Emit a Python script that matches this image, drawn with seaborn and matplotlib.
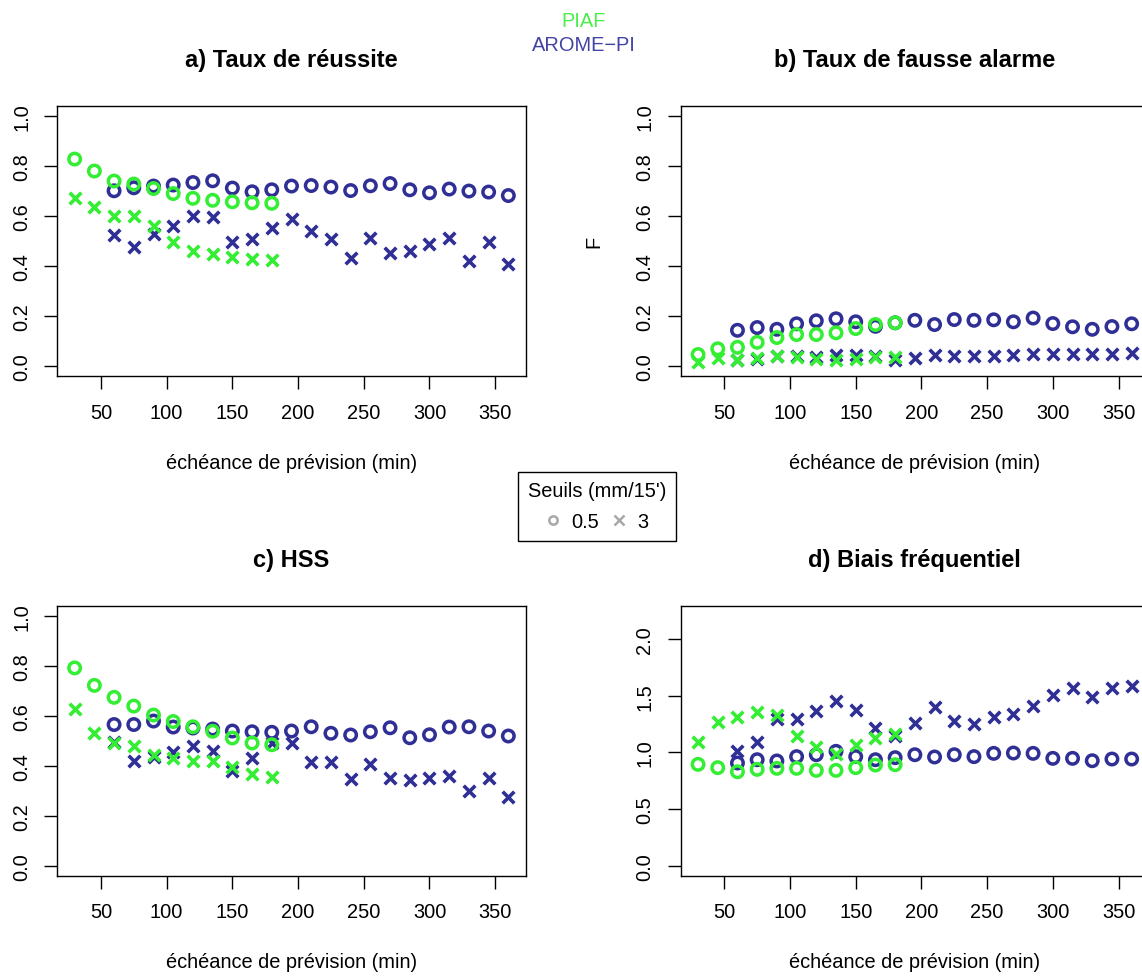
import numpy as np
import pandas as pd
import matplotlib
matplotlib.use('Agg')
import matplotlib.pyplot as plt
from matplotlib.lines import Line2D
import seaborn as sns

# Lead times (min)
piaf_lead = [30, 45, 60, 75, 90, 105, 120, 135, 150, 165, 180]
arome_lead = [60, 75, 90, 105, 120, 135, 150, 165, 180, 195, 210,
              225, 240, 255, 270, 285, 300, 315, 330, 345, 360]

# a) Taux de reussite
pod_piaf_05 = [0.829, 0.781, 0.741, 0.729, 0.711, 0.691, 0.672, 0.664, 0.658, 0.654, 0.652]
pod_piaf_3 = [0.675, 0.639, 0.603, 0.600, 0.561, 0.497, 0.461, 0.449, 0.439, 0.429, 0.426]
pod_arome_05 = [0.702, 0.714, 0.721, 0.725, 0.735, 0.742, 0.713, 0.698, 0.706, 0.721, 0.723,
                0.717, 0.703, 0.722, 0.731, 0.706, 0.694, 0.709, 0.701, 0.697, 0.683]
pod_arome_3 = [0.524, 0.477, 0.531, 0.560, 0.602, 0.599, 0.496, 0.511, 0.555, 0.588, 0.540,
               0.511, 0.432, 0.512, 0.453, 0.461, 0.491, 0.513, 0.420, 0.496, 0.409]

# b) Taux de fausse alarme
far_piaf_05 = [0.047, 0.070, 0.076, 0.096, 0.115, 0.127, 0.127, 0.134, 0.151, 0.167, 0.174]
far_piaf_3 = [0.017, 0.033, 0.027, 0.033, 0.040, 0.036, 0.029, 0.027, 0.031, 0.037, 0.036]
far_arome_05 = [0.144, 0.155, 0.148, 0.170, 0.182, 0.190, 0.178, 0.160, 0.174, 0.184, 0.167,
                0.187, 0.184, 0.186, 0.178, 0.193, 0.171, 0.158, 0.148, 0.159, 0.170]
far_arome_3 = [0.024, 0.031, 0.040, 0.040, 0.036, 0.047, 0.047, 0.040, 0.027, 0.033, 0.044,
               0.040, 0.040, 0.040, 0.045, 0.049, 0.049, 0.051, 0.051, 0.051, 0.053]

# c) HSS
hss_piaf_05 = [0.793, 0.723, 0.675, 0.640, 0.604, 0.578, 0.557, 0.539, 0.512, 0.492, 0.485]
hss_piaf_3 = [0.628, 0.533, 0.492, 0.479, 0.445, 0.430, 0.420, 0.421, 0.394, 0.369, 0.357]
hss_arome_05 = [0.566, 0.566, 0.580, 0.556, 0.552, 0.548, 0.540, 0.537, 0.535, 0.540, 0.557,
                0.531, 0.524, 0.537, 0.553, 0.513, 0.525, 0.556, 0.557, 0.540, 0.520]
hss_arome_3 = [0.497, 0.421, 0.434, 0.455, 0.481, 0.459, 0.381, 0.430, 0.492, 0.492, 0.416,
               0.416, 0.349, 0.409, 0.352, 0.342, 0.353, 0.358, 0.299, 0.350, 0.275]

# d) Biais frequentiel
bias_piaf_05 = [0.894, 0.865, 0.829, 0.850, 0.859, 0.859, 0.841, 0.841, 0.865, 0.888, 0.891]
bias_piaf_3 = [1.088, 1.271, 1.315, 1.356, 1.332, 1.147, 1.047, 0.985, 1.062, 1.129, 1.162]
bias_arome_05 = [0.906, 0.935, 0.924, 0.962, 0.979, 1.009, 0.962, 0.935, 0.953, 0.979, 0.959,
                 0.979, 0.962, 0.991, 0.994, 0.991, 0.947, 0.947, 0.926, 0.941, 0.941]
bias_arome_3 = [1.015, 1.094, 1.294, 1.294, 1.362, 1.450, 1.374, 1.212, 1.147, 1.256, 1.400,
                1.276, 1.247, 1.315, 1.341, 1.412, 1.506, 1.571, 1.485, 1.565, 1.588]

titles = ['a) Taux de réussite', 'b) Taux de fausse alarme', 'c) HSS', 'd) Biais fréquentiel']
xlabel = 'échéance de prévision (min)'

col_piaf = '#33EE33'
col_arome = '#2F2F96'
col_piaf_txt = '#4CEE4C'
col_arome_txt = '#4343A6'

sns.set_style('white')
plt.rcParams['font.family'] = ['Liberation Sans', 'DejaVu Sans']
plt.rcParams['text.color'] = 'black'
plt.rcParams['axes.labelcolor'] = 'black'
plt.rcParams['xtick.color'] = 'black'
plt.rcParams['ytick.color'] = 'black'


def make_df(p05, p3, a05, a3):
    rows = []
    for lead, v in zip(arome_lead, a05):
        rows.append(('AROME-PI', '0.5', lead, v))
    for lead, v in zip(arome_lead, a3):
        rows.append(('AROME-PI', '3', lead, v))
    for lead, v in zip(piaf_lead, p05):
        rows.append(('PIAF', '0.5', lead, v))
    for lead, v in zip(piaf_lead, p3):
        rows.append(('PIAF', '3', lead, v))
    return pd.DataFrame(rows, columns=['model', 'seuil', 'lead', 'value'])


panels = [
    make_df(pod_piaf_05, pod_piaf_3, pod_arome_05, pod_arome_3),
    make_df(far_piaf_05, far_piaf_3, far_arome_05, far_arome_3),
    make_df(hss_piaf_05, hss_piaf_3, hss_arome_05, hss_arome_3),
    make_df(bias_piaf_05, bias_piaf_3, bias_arome_05, bias_arome_3),
]

W, H = 1142, 978
fig = plt.figure(figsize=(W / 100, H / 100), dpi=100)

# box positions in pixels: left, top, right, bottom
boxes = [(57.3, 107.3, 525.7, 377.3), (680.7, 107.3, 1149, 377.3),
         (57.3, 607.3, 525.7, 876.7), (680.7, 607.3, 1149, 876.7)]

for i, (df, box) in enumerate(zip(panels, boxes)):
    l, t, r, b = box
    ax = fig.add_axes([l / W, 1 - b / H, (r - l) / W, (b - t) / H])
    for model, col in [('AROME-PI', col_arome), ('PIAF', col_piaf)]:
        sub = df[df.model == model]
        s05 = sub[sub.seuil == '0.5']
        s3 = sub[sub.seuil == '3']
        sns.scatterplot(data=s05, x='lead', y='value', ax=ax, marker='o', s=68,
                        facecolor='none', edgecolor=col, linewidth=2.5, zorder=3)
        sns.scatterplot(data=s3, x='lead', y='value', ax=ax, marker='x', s=70,
                        color=col, linewidth=2.6, zorder=3)

    ax.set_xlim(16.8, 373.2)
    ax.set_xticks([50, 100, 150, 200, 250, 300, 350])
    if i == 3:
        ax.set_ylim(-0.088, 2.288)
        ax.set_yticks([0.0, 0.5, 1.0, 1.5, 2.0])
    else:
        ax.set_ylim(-0.04, 1.04)
        ax.set_yticks([0.0, 0.2, 0.4, 0.6, 0.8, 1.0])
    ax.set_yticklabels([f'{v:.1f}' for v in ax.get_yticks()])

    ax.tick_params(axis='both', which='major', labelsize=14.4, length=9.4, width=1.0,
                   pad=9.5, direction='out', color='black', labelcolor='black',
                   bottom=True, left=True)
    ax.tick_params(axis='y', labelrotation=90)
    for lbl in ax.get_yticklabels():
        lbl.set_va('center')
    for sp in ax.spines.values():
        sp.set_visible(True)
        sp.set_color('black')
        sp.set_linewidth(1.0)

    ax.set_xlabel(xlabel, fontsize=14.4, va='baseline', color='black')
    ax.xaxis.set_label_coords(0.5, -0.34)
    if i == 1:
        ax.set_ylabel('F', fontsize=14.4, color='black')
        ax.yaxis.set_label_coords(-0.166, 0.5)
    else:
        ax.set_ylabel('')
    ax.set_title(titles[i], fontsize=17, fontweight='bold', pad=29, color='black')

# top model legend
fig.text(584 / W, 1 - 27 / H, 'PIAF', color=col_piaf_txt, ha='center',
         va='baseline', fontsize=14.4)
fig.text(584 / W, 1 - 51 / H, 'AROME\u2212PI', color=col_arome_txt, ha='center',
         va='baseline', fontsize=14.4)

# threshold legend
handles = [Line2D([], [], linestyle='', marker='o', markersize=6, markerfacecolor='none',
                  markeredgecolor='#A8A8A8', markeredgewidth=1.8),
           Line2D([], [], linestyle='', marker='x', markersize=7, color='#A8A8A8',
                  markeredgewidth=1.8)]
leg = fig.legend(handles, ['0.5', '3'], title="Seuils (mm/15')", ncol=2,
                 loc='center', bbox_to_anchor=(596.7 / W, 1 - 507 / H),
                 frameon=True, fancybox=False, edgecolor='black', framealpha=1,
                 fontsize=14.4, title_fontsize=14.4, handlelength=0.8,
                 handletextpad=0.5, columnspacing=0.6, borderpad=0.5,
                 labelspacing=0.55, borderaxespad=0)
leg.get_frame().set_linewidth(1.0)
leg.get_title().set_color('black')
for txt in leg.get_texts():
    txt.set_color('black')

fig.savefig('out.png', dpi=100)
